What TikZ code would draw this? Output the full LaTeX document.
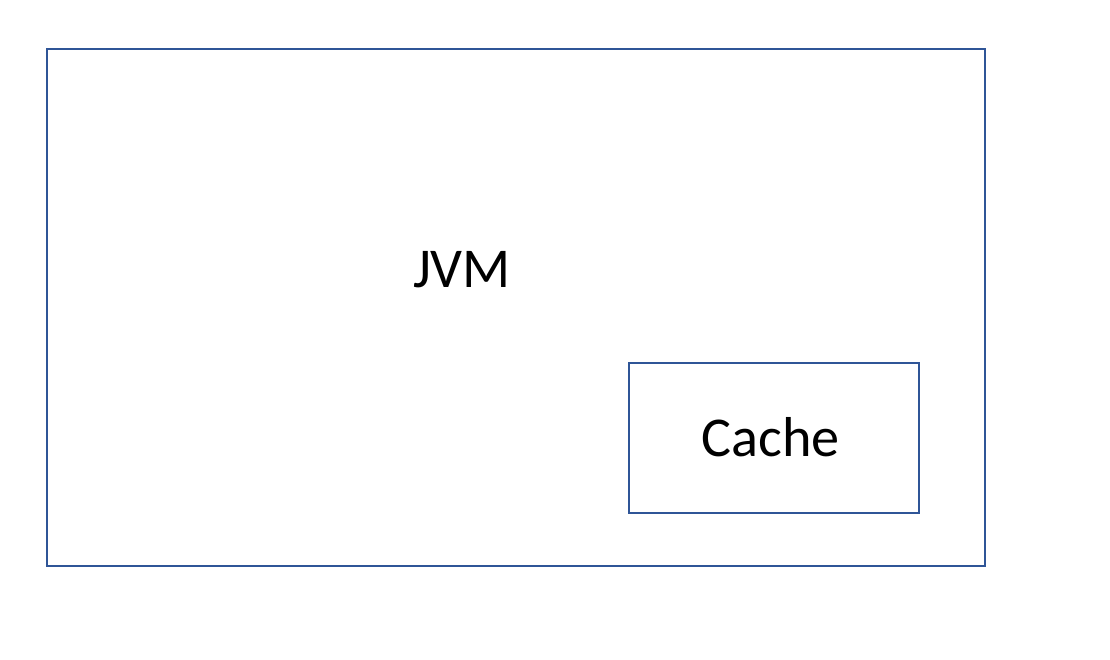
\documentclass[tikz,border=0pt]{standalone}
\usepackage{fontspec}
\setmainfont{Carlito}
\definecolor{boxblue}{RGB}{47, 85, 151}

\begin{document}
\begin{tikzpicture}[
    box/.style={draw=boxblue, line width=1.1pt, inner sep=0pt},
    label/.style={font=\fontsize{32}{38}\selectfont}
  ]
  \useasboundingbox (0,0) rectangle (22.2,13.2);

  % JVM frame
  \node[box, minimum width=18.76cm, minimum height=10.34cm] (jvm) at (10.32,7.05) {};
  \node[label] (jvmlabel) at (9.24,7.8) {JVM};

  % Cache inside
  \node[box, minimum width=5.8cm, minimum height=3.0cm] (cache) at (15.48,4.44) {};
  \node[label] (cachelabel) at (15.41,4.46) {Cache};
\end{tikzpicture}
\end{document}
